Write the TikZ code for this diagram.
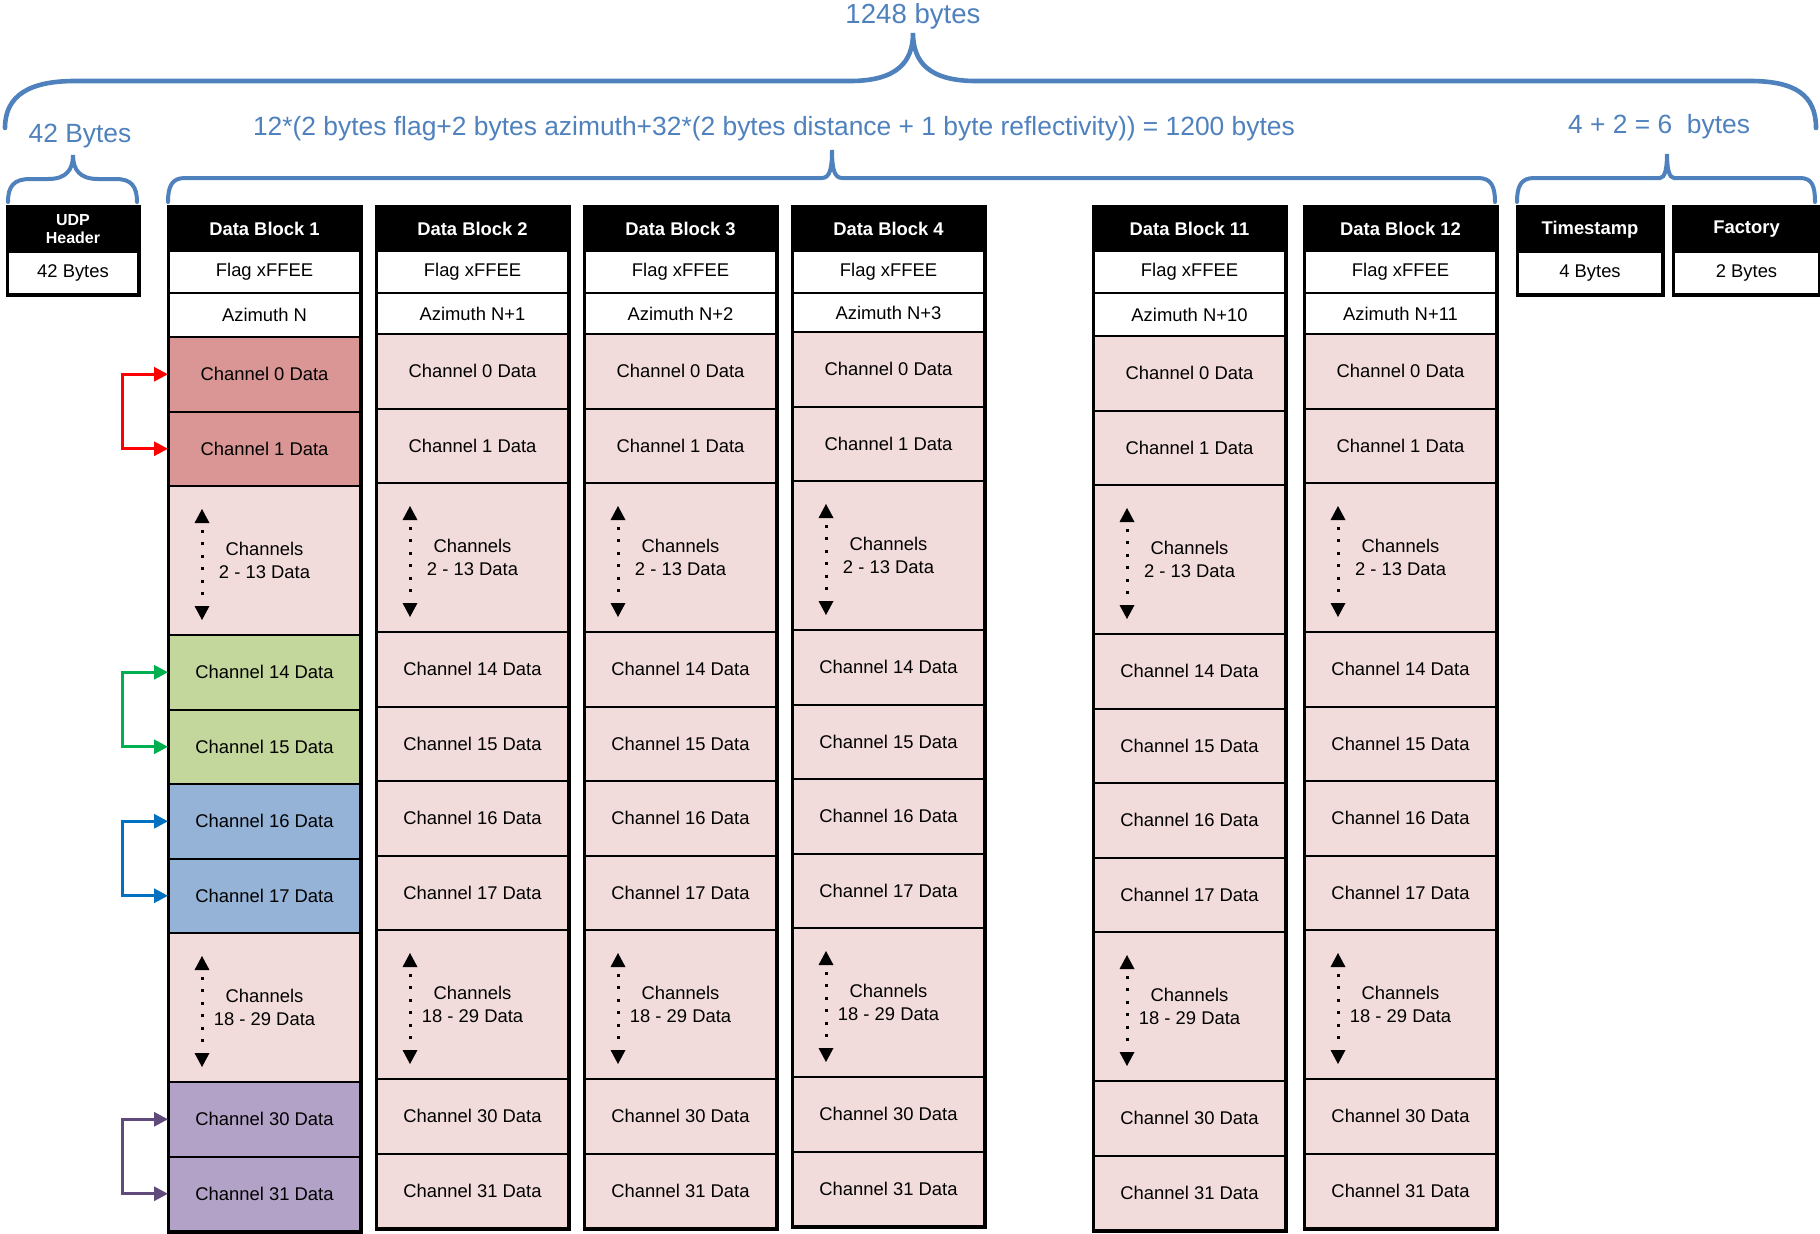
\documentclass[tikz,border=0pt]{standalone}
\usepackage{fontspec}
\setmainfont{Liberation Sans}
\usetikzlibrary{arrows.meta}
\definecolor{bracec}{HTML}{4F81BD}
\definecolor{pinkc}{HTML}{F2DCDB}
\definecolor{redc}{HTML}{D99694}
\definecolor{greenc}{HTML}{C3D69B}
\definecolor{bluec}{HTML}{95B3D7}
\definecolor{purplec}{HTML}{B3A2C7}
\definecolor{arrred}{HTML}{FF0000}
\definecolor{arrgreen}{HTML}{00B050}
\definecolor{arrblue}{HTML}{0070C0}
\definecolor{arrpurple}{HTML}{604A7B}
\tikzset{
  cell/.style={draw=black, line width=1pt, rectangle, inner sep=0pt, anchor=north west,
    minimum width=95.5pt, font=\fontsize{9.2}{11.5}\selectfont, align=center},
  hdr/.style={cell, fill=black, text=white, font=\bfseries\fontsize{9.2}{11}\selectfont},
  outerbox/.style={draw=black, line width=1.5pt},
  brace/.style={draw=bracec, line width=2pt, line cap=round},
  btxt/.style={text=bracec, inner sep=0pt, font=\fontsize{13.2}{16}\selectfont},
  conn/.style={line width=1.5pt, line join=miter,
    {Triangle[length=7pt,width=7pt]}-{Triangle[length=7pt,width=7pt]}},
  tri/.style={fill=black}
}
\newcommand{\dcol}[9]{%
  \pgfmathsetmacro\azh{(#5-292)*0.5}%
  \node[hdr, minimum height=22pt] (#1-h) at (#2,206) {#3};
  \node[cell, fill=white, minimum height=21pt] (#1-f) at (#2,250) {Flag xFFEE};
  \node[cell, fill=white, minimum height=\azh pt] (#1-a) at (#2,292) {#4};
  \node[cell, fill=#6, minimum height=37.25pt] (#1-c0) at (#2,#5) {Channel 0 Data};
  \node[cell, fill=#6, minimum height=37.25pt] (#1-c1) at (#2,{#5+74.5}) {Channel 1 Data};
  \node[cell, fill=pinkc, minimum height=74.5pt] (#1-d1) at (#2,{#5+149}) {Channels\\2 - 13 Data};
  \node[cell, fill=#7, minimum height=37.25pt] (#1-c14) at (#2,{#5+298}) {Channel 14 Data};
  \node[cell, fill=#7, minimum height=37.25pt] (#1-c15) at (#2,{#5+372.5}) {Channel 15 Data};
  \node[cell, fill=#8, minimum height=37.25pt] (#1-c16) at (#2,{#5+447}) {Channel 16 Data};
  \node[cell, fill=#8, minimum height=37.25pt] (#1-c17) at (#2,{#5+521.5}) {Channel 17 Data};
  \node[cell, fill=pinkc, minimum height=74.5pt] (#1-d2) at (#2,{#5+596}) {Channels\\18 - 29 Data};
  \node[cell, fill=#9, minimum height=37.25pt] (#1-c30) at (#2,{#5+745}) {Channel 30 Data};
  \node[cell, fill=#9, minimum height=37.25pt] (#1-c31) at (#2,{#5+819.5}) {Channel 31 Data};
  \draw[outerbox] (#1-h.north west) rectangle (#1-c31.south east);
  \foreach \d in {d1,d2}{%
    \fill[tri] ([shift={(34,24)}]#1-\d.north west) -- ++(7.5,14) -- ++(-15,0) -- cycle;
    \fill[tri] ([shift={(34,-16)}]#1-\d.south west) -- ++(7.5,-14) -- ++(-15,0) -- cycle;
    \draw[line width=1.5pt, dash pattern=on 1.5pt off 4.7pt]
      ([shift={(34,45)}]#1-\d.north west) -- ([shift={(34,110)}]#1-\d.north west);
  }
}
\begin{document}
\begin{tikzpicture}[x=0.5pt, y=-0.5pt]
\useasboundingbox (0,0) rectangle (1820,1233);

% braces
\draw[brace, line width=2.3pt] (5,128) .. controls (5,95) and (30,81) .. (75,81) -- (850,81)
  .. controls (897,81) and (913,62) .. (913,33) .. controls (913,62) and (929,81) .. (976,81)
  -- (1750,81) .. controls (1795,81) and (1816,95) .. (1816,128);
\draw[brace] (8,202) .. controls (8,186) and (14,179) .. (30,179) -- (48,179)
  .. controls (66,179) and (73,170) .. (73,155) .. controls (73,170) and (80,179) .. (98,179)
  -- (116,179) .. controls (131,179) and (137,186) .. (137,202);
\draw[brace] (168,202) .. controls (168,186) and (172,178) .. (185,178) -- (822,178)
  .. controls (830,178) and (832,168) .. (832,150) .. controls (832,168) and (834,178) .. (842,178)
  -- (1478,178) .. controls (1491,178) and (1495,186) .. (1495,202);
\draw[brace] (1517,202) .. controls (1517,186) and (1521,178) .. (1534,178) -- (1660,178)
  .. controls (1665,178) and (1667,168) .. (1667,154) .. controls (1667,168) and (1669,178) .. (1674,178)
  -- (1800,178) .. controls (1812,178) and (1815,186) .. (1815,202);

% brace labels
\node[btxt, font=\fontsize{13.8}{16}\selectfont, anchor=base] (t1248) at (913,23) {1248 bytes};
\node[btxt, anchor=base] (t42) at (80,142) {42 Bytes};
\node[btxt, anchor=base] (t1200) at (774,135) {12*(2 bytes flag+2 bytes azimuth+32*(2 bytes distance + 1 byte reflectivity)) = 1200 bytes};
\node[btxt, anchor=base] (t6) at (1659,133) {4 + 2 = 6\ \ bytes};

% UDP header
\node[hdr, minimum width=65pt, minimum height=22.5pt, font=\bfseries\fontsize{8}{9}\selectfont] (udp-h) at (7,206) {UDP\\Header};
\node[cell, fill=white, minimum width=65pt, minimum height=21pt] (udp-b) at (7,251) {42 Bytes};
\draw[outerbox] (udp-h.north west) rectangle (udp-b.south east);

% data blocks
\dcol{b1}{168}{Data Block 1}{Azimuth N}{336}{redc}{greenc}{bluec}{purplec}
\dcol{b2}{376}{Data Block 2}{Azimuth N+1}{333}{pinkc}{pinkc}{pinkc}{pinkc}
\dcol{b3}{584}{Data Block 3}{Azimuth N+2}{333}{pinkc}{pinkc}{pinkc}{pinkc}
\dcol{b4}{792}{Data Block 4}{Azimuth N+3}{331}{pinkc}{pinkc}{pinkc}{pinkc}
\dcol{b11}{1093}{Data Block 11}{Azimuth N+10}{335}{pinkc}{pinkc}{pinkc}{pinkc}
\dcol{b12}{1304}{Data Block 12}{Azimuth N+11}{333}{pinkc}{pinkc}{pinkc}{pinkc}

% timestamp / factory
\node[hdr, minimum width=72pt, minimum height=22.5pt] (ts-h) at (1517,206) {Timestamp};
\node[cell, fill=white, minimum width=72pt, minimum height=21pt] (ts-b) at (1517,251) {4 Bytes};
\draw[outerbox] (ts-h.north west) rectangle (ts-b.south east);
\node[hdr, minimum width=72.5pt, minimum height=22.5pt] (fa-h) at (1673,206) {Factory};
\node[cell, fill=white, minimum width=72.5pt, minimum height=21pt] (fa-b) at (1673,251) {2 Bytes};
\draw[outerbox] (fa-h.north west) rectangle (fa-b.south east);

% connectors
\draw[conn, arrred] (b1-c0.west) -- ++(-46,0) |- (b1-c1.west);
\draw[conn, arrgreen] (b1-c14.west) -- ++(-46,0) |- (b1-c15.west);
\draw[conn, arrblue] (b1-c16.west) -- ++(-46,0) |- (b1-c17.west);
\draw[conn, arrpurple] (b1-c30.west) -- ++(-46,0) |- (b1-c31.west);
\end{tikzpicture}
\end{document}
